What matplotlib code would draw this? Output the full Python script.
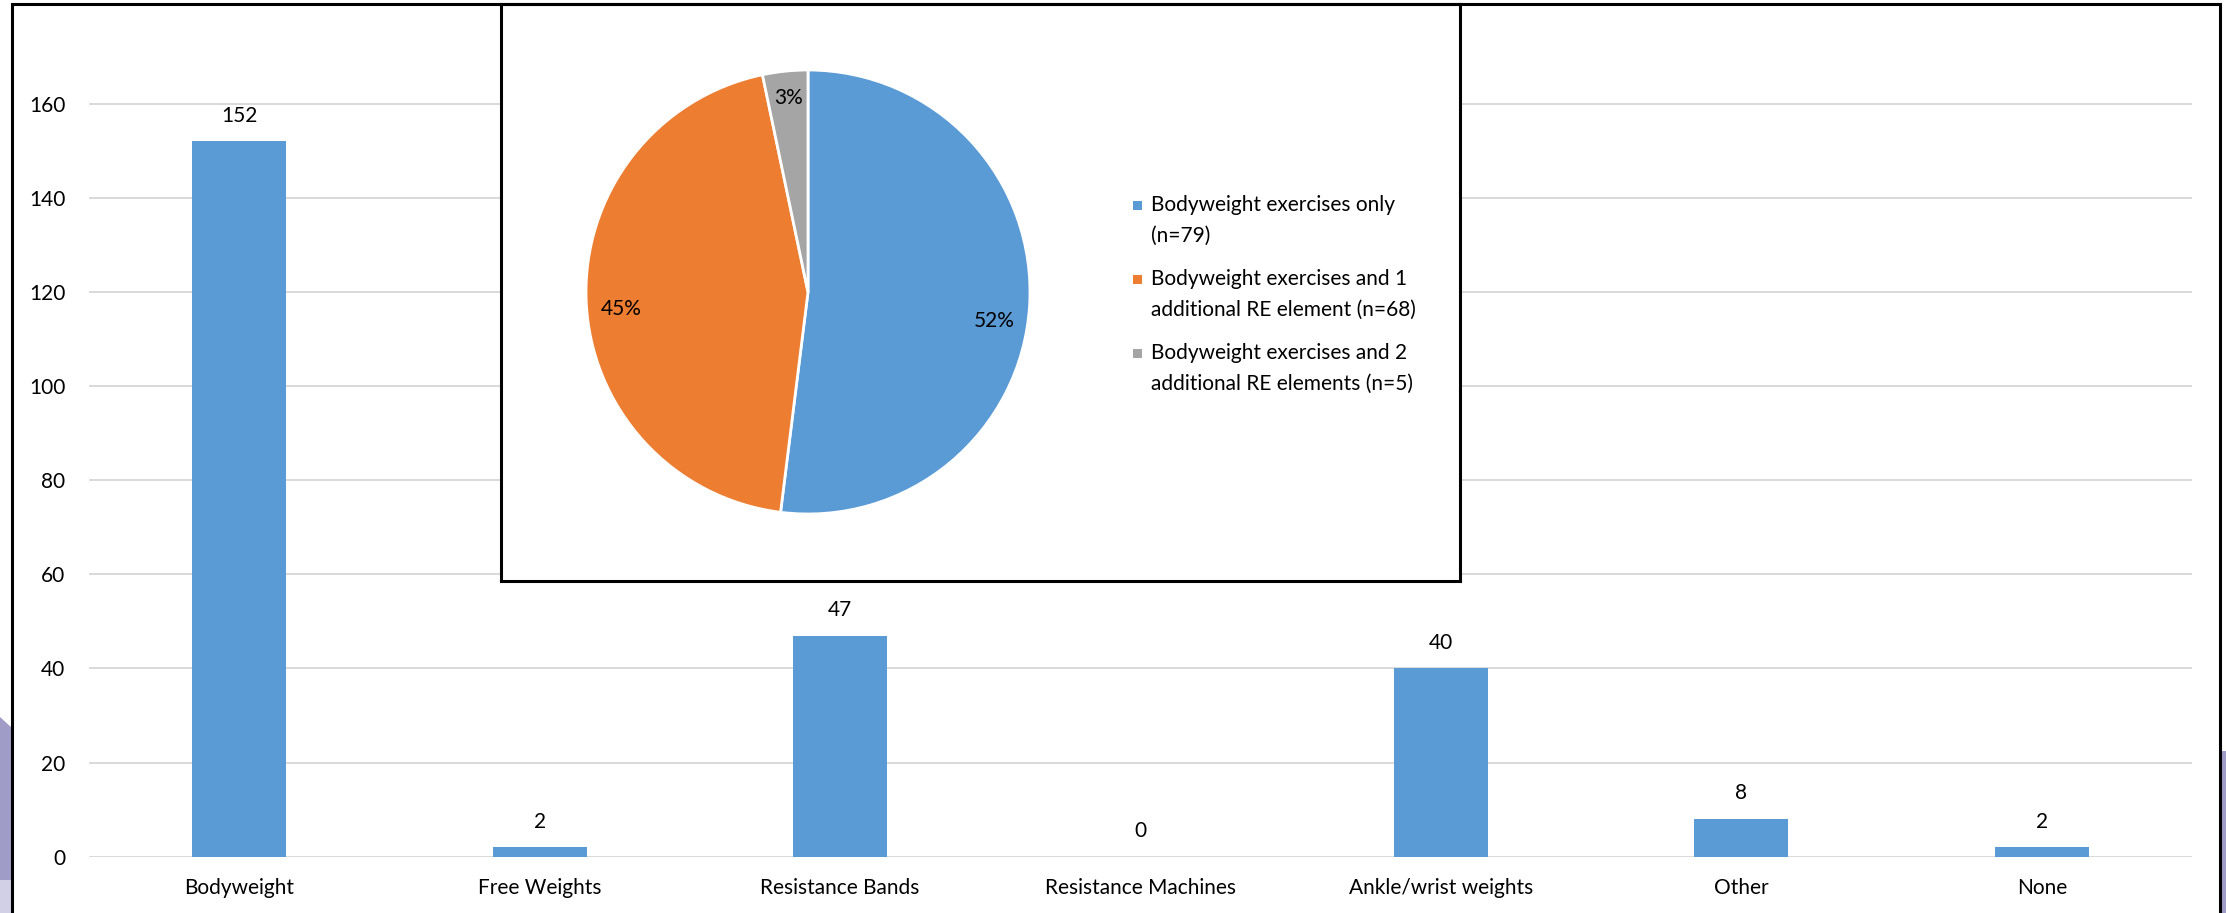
import matplotlib.pyplot as plt
from matplotlib.patches import Rectangle, Polygon

plt.rcParams['font.family'] = ['Lato', 'DejaVu Sans']

# bar chart data
categories = ['Bodyweight', 'Free Weights', 'Resistance Bands', 'Resistance Machines',
              'Ankle/wrist weights', 'Other', 'None']
counts = [152, 2, 47, 0, 40, 8, 2]
y_ticks = [0, 20, 40, 60, 80, 100, 120, 140, 160]

# inset pie data
pie_labels = ['Bodyweight exercises only\n(n=79)',
              'Bodyweight exercises and 1\nadditional RE element (n=68)',
              'Bodyweight exercises and 2\nadditional RE elements (n=5)']
pie_counts = [79, 68, 5]

BLUE = '#5b9bd5'
pie_colors = [BLUE, '#ed7d31', '#a5a5a5']

W, H = 2226, 913
fig = plt.figure(figsize=(W / 100, H / 100), dpi=100)

# purple background bits peeking out at the edges
fig.add_artist(Polygon([(0, 1 - 717 / H), (12 / W, 1 - 728 / H), (12 / W, 0), (0, 0)],
                       closed=True, transform=fig.transFigure, facecolor='#a09cc8',
                       edgecolor='none'))
fig.add_artist(Rectangle((0, 0), 12 / W, 1 - 880 / H, transform=fig.transFigure,
                         facecolor='#d2d0e6', edgecolor='none'))
fig.add_artist(Rectangle((2221 / W, 0), 5 / W, 1 - 751 / H, transform=fig.transFigure,
                         facecolor='#a09cc8', edgecolor='none'))

# main bar chart
ax = fig.add_axes([89 / W, 1 - 856.7 / H, 2103 / W, (856.7 - 4) / H])
x = range(len(categories))
bars = ax.bar(x, counts, width=0.313, color=BLUE, zorder=3)
for rect, v in zip(bars, counts):
    ax.annotate(str(v), (rect.get_x() + rect.get_width() / 2, v),
                xytext=(0, 18.5), textcoords='offset points',
                ha='center', va='center', fontsize=15)

ax.set_xlim(-0.5, len(categories) - 0.5)
ax.set_ylim(0, (856.7 - 4) / 4.706)
ax.set_yticks(y_ticks)
ax.set_xticks(list(x))
ax.set_xticklabels(categories)
ax.tick_params(axis='both', length=0, labelsize=15)
ax.tick_params(axis='x', pad=15)
ax.tick_params(axis='y', pad=17)
ax.grid(axis='y', color='#d9d9d9', linewidth=1.4, zorder=0)
for s in ax.spines.values():
    s.set_visible(False)

# outer chart border
fig.add_artist(Rectangle((12 / W, -0.01), (2220 - 12) / W, 1.01 - 4 / H,
                         transform=fig.transFigure, fill=False,
                         edgecolor='black', linewidth=2.2))

# inset frame
inset = fig.add_axes([501 / W, 1 - 581 / H, (1460 - 501) / W, (581 - 4) / H])
inset.set_facecolor('white')
inset.set_xticks([])
inset.set_yticks([])
for s in inset.spines.values():
    s.set_linewidth(2.2)
    s.set_color('black')

# pie
r = 222
cx, cy = 808, 292
pax = fig.add_axes([(cx - r) / W, 1 - (cy + r) / H, 2 * r / W, 2 * r / H])
wedges, _, autotexts = pax.pie(pie_counts, colors=pie_colors, startangle=90,
                               counterclock=False, autopct='%1.0f%%',
                               pctdistance=0.84,
                               wedgeprops={'edgecolor': 'white', 'linewidth': 2})
# excel's "best fit" puts the labels a little off the mid-angle
for t, dy in zip(autotexts, [-0.08, -0.04, 0.04]):
    px, py = t.get_position()
    t.set_position((px, py + dy))
    t.set_fontsize(15)
pax.set_xlim(-1, 1)
pax.set_ylim(-1, 1)
pax.set_aspect('auto')
pax.axis('off')

# legend drawn by hand so the key sits beside the first line
for i, (lab, col) in enumerate(zip(pie_labels, pie_colors)):
    top = 201 + 74 * i
    fig.add_artist(Rectangle((1133 / W, 1 - (top + 9) / H), 9 / W, 9 / H,
                             transform=fig.transFigure, facecolor=col,
                             edgecolor='none'))
    fig.text(1151 / W, 1 - (top - 6) / H, lab, ha='left', va='top',
             fontsize=15, linespacing=1.65)

fig.savefig('out.png', dpi=100)
